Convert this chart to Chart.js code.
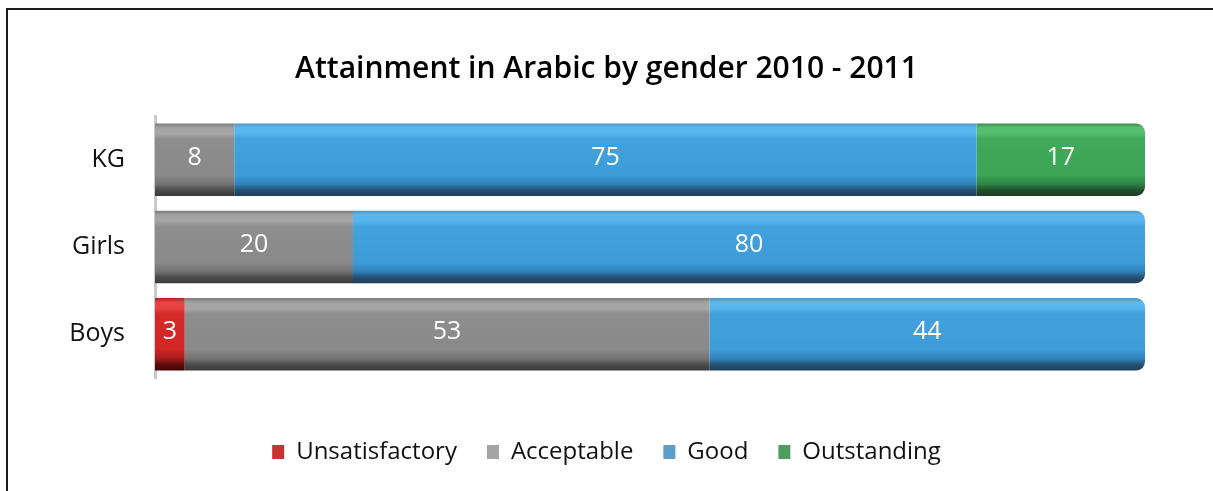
<!DOCTYPE html>
<html>
<head>
<meta charset="utf-8">
<script src="https://cdn.jsdelivr.net/npm/chart.js@4"></script>
<style>
  html, body { margin: 0; padding: 0; background: #fff; }
  #wrap { width: 1213px; height: 491px; position: relative; }
</style>
</head>
<body>
<div id="wrap"><canvas id="chart" width="1213" height="491"></canvas></div>
<script>
const categories = ['KG', 'Girls', 'Boys'];
const seriesNames = ['Unsatisfactory', 'Acceptable', 'Good', 'Outstanding'];
const unsatisfactory = [0, 0, 3];
const acceptable = [8, 20, 53];
const good = [75, 80, 44];
const outstanding = [17, 0, 0];
const xTicks = [0, 100];

const FONT = "'Open Sans', 'DejaVu Sans', sans-serif";

// flat colours for the legend, gradient stops for the bars (top -> bottom)
const legendColors = ['#c83434', '#a3a3a3', '#5d9cc9', '#4e9d5f'];
const flatColors = ['#d22a2a', '#8b8b8b', '#3f9fdb', '#3ea556'];
const gradStops = [
  ['#b22222', '#e84444', '#e64242', '#d42a2a', '#cf2626', '#a31a1a', '#5c0a0a', '#420606'],
  ['#7b7b7b', '#a2a2a2', '#a6a6a6', '#8e8e8e', '#898989', '#717171', '#4b4b4b', '#3a3a3a'],
  ['#4f93c4', '#5bb8f0', '#58b4ec', '#42a2de', '#3d9cd8', '#2f80b8', '#244f72', '#1f3f5c'],
  ['#3f8a50', '#56c170', '#52bd6c', '#40a95a', '#3ba455', '#2d8243', '#1f4f2b', '#193e21']
];
const stopPos = [0, 0.06, 0.14, 0.22, 0.72, 0.84, 0.92, 1];
const CAT_PCT = 0.83;

function barFill(i) {
  return function (ctx) {
    const chart = ctx.chart;
    const y = chart.scales.y;
    if (ctx.type !== 'data' || !y || !chart.chartArea) return flatColors[i];
    const c = y.getPixelForValue(ctx.dataIndex);
    const h = Math.abs(y.getPixelForValue(1) - y.getPixelForValue(0)) * CAT_PCT;
    if (!isFinite(c) || !isFinite(h) || h <= 0) return flatColors[i];
    const g = chart.ctx.createLinearGradient(0, c - h / 2, 0, c + h / 2);
    gradStops[i].forEach((col, k) => g.addColorStop(stopPos[k], col));
    return g;
  };
}

const seriesData = [unsatisfactory, acceptable, good, outstanding];

const frame = {
  id: 'frame',
  beforeDraw(chart) {
    const c = chart.ctx;
    c.save();
    c.fillStyle = '#1c1c1c';
    c.fillRect(6, 8, 2, chart.height);
    c.fillRect(6, 8, chart.width, 2);
    c.restore();
  }
};

const barLabels = {
  id: 'barLabels',
  afterDatasetsDraw(chart) {
    const c = chart.ctx;
    c.save();
    c.font = '25px ' + FONT;
    c.fillStyle = '#ffffff';
    c.textAlign = 'center';
    c.textBaseline = 'middle';
    chart.data.datasets.forEach((ds, di) => {
      const meta = chart.getDatasetMeta(di);
      meta.data.forEach((el, i) => {
        const v = ds.data[i];
        if (!v) return;
        const p = el.getCenterPoint();
        c.fillText(String(v), p.x, p.y - 2);
      });
    });
    c.restore();
  }
};

new Chart(document.getElementById('chart'), {
  type: 'bar',
  data: {
    labels: categories,
    datasets: seriesNames.map((name, i) => ({
      label: name,
      data: seriesData[i],
      backgroundColor: barFill(i),
      borderWidth: 0,
      borderRadius: 9,
      categoryPercentage: CAT_PCT,
      barPercentage: 1
    }))
  },
  options: {
    indexAxis: 'y',
    responsive: false,
    animation: false,
    layout: { padding: { left: 0, right: 0, top: 0, bottom: 17 } },
    scales: {
      x: {
        stacked: true,
        min: xTicks[0],
        max: xTicks[1],
        grid: { display: false },
        border: { display: false },
        ticks: { display: false },
        afterFit: s => { s.height = 32; }
      },
      y: {
        stacked: true,
        grid: { display: false, drawTicks: false },
        border: { display: true, color: '#c9c9c9', width: 3 },
        ticks: { color: '#111', padding: 30, font: { family: FONT, size: 25 } },
        afterFit: s => { s.width = 155; }
      },
      // empty spacer on the right so the plot stops where the reference does
      yRight: {
        type: 'linear',
        position: 'right',
        display: true,
        grid: { display: false },
        border: { display: false },
        ticks: { display: false },
        afterFit: s => { s.width = 68; }
      }
    },
    plugins: {
      title: {
        display: true,
        text: 'Attainment in Arabic by gender 2010 - 2011',
        color: '#000',
        font: { family: FONT, size: 30, weight: '600' },
        padding: { top: 51, bottom: 29 }
      },
      legend: {
        position: 'bottom',
        labels: {
          color: '#111',
          font: { family: FONT, size: 24 },
          boxWidth: 12,
          boxHeight: 14,
          padding: 30,
          generateLabels(chart) {
            const items = Chart.defaults.plugins.legend.labels.generateLabels(chart);
            items.forEach((it, i) => {
              it.fillStyle = legendColors[i];
              it.strokeStyle = legendColors[i];
              it.lineWidth = 0;
            });
            return items;
          }
        }
      },
      tooltip: { enabled: false }
    }
  },
  plugins: [frame, barLabels]
});
</script>
</body>
</html>
